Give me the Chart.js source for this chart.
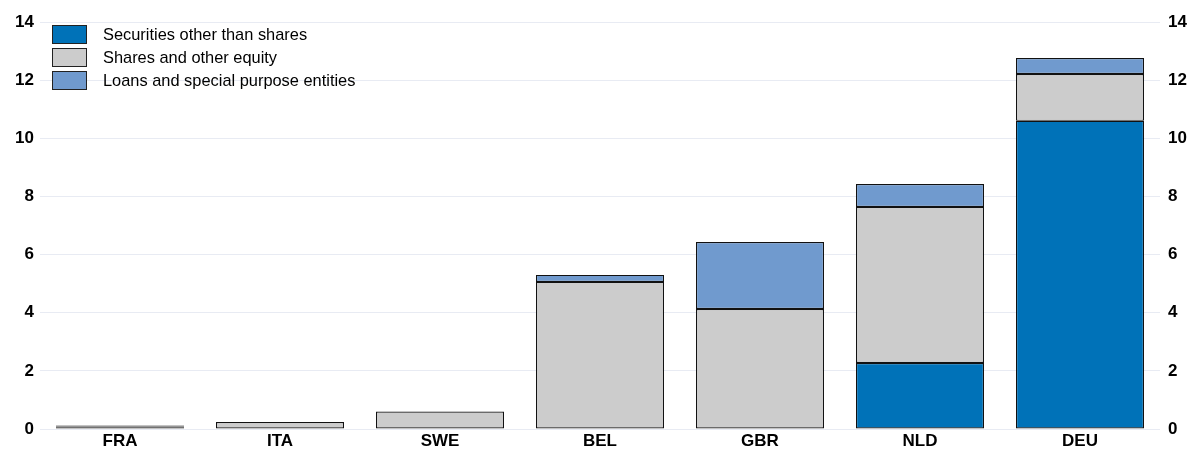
<!DOCTYPE html>
<html lang="en">
<head>
<meta charset="UTF-8">
<script src="https://cdn.jsdelivr.net/npm/chart.js@4.4.0/dist/chart.umd.min.js"></script>
<style>
    body { margin: 0; background: #fff; font-family: "Liberation Sans", Arial, sans-serif; }
    .wrap { position: relative; width: 1197px; height: 450px; }
    .legend { position: absolute; left: 52px; top: 23px; font-size: 16.4px; color: #000; }
    .legend div { height: 23px; display: flex; align-items: center; }
    .legend span.box { display: inline-block; width: 33px; height: 17px; border: 1px solid #222; margin-right: 16px; }
</style>
</head>
<body>
<div class="wrap">
    <canvas id="chart" width="1197" height="450"></canvas>
    <div class="legend" id="legend"></div>
</div>
<script>
    // data
    var countries = ['FRA', 'ITA', 'SWE', 'BEL', 'GBR', 'NLD', 'DEU'];
    var securities = [0.04, 0, 0, 0, 0, 2.27, 10.6];
    var shares = [0.05, 0.24, 0.6, 5.06, 4.13, 5.37, 1.61];
    var loans = [0.03, 0, 0, 0.24, 2.3, 0.79, 0.55];
    var seriesNames = ['Securities other than shares', 'Shares and other equity', 'Loans and special purpose entities'];
    var colors = ['#0072b8', '#cccccc', '#709ace'];

    // legend
    var leg = document.getElementById('legend');
    seriesNames.forEach(function (n, i) {
        leg.innerHTML += '<div><span class="box" style="background:' + colors[i] + '"></span>' + n + '</div>';
    });

    var tickFont = { family: '"Liberation Sans", Arial, sans-serif', size: 17, weight: 'bold' };

    new Chart(document.getElementById('chart'), {
        type: 'bar',
        data: {
            labels: countries,
            datasets: [securities, shares, loans].map(function (d, i) {
                return {
                    label: seriesNames[i],
                    data: d,
                    backgroundColor: colors[i],
                    borderColor: '#111',
                    borderWidth: 1.2,
                    borderSkipped: false,
                    barPercentage: 0.8,
                    categoryPercentage: 1
                };
            })
        },
        options: {
            responsive: false,
            animation: false,
            layout: { padding: { top: 22, left: 0, right: 0, bottom: 0 } },
            plugins: { legend: { display: false }, tooltip: { enabled: false } },
            scales: {
                x: {
                    stacked: true,
                    grid: { display: false },
                    border: { display: false },
                    ticks: { color: '#000', font: tickFont, padding: -6 },
                    afterFit: function (a) { a.height = 21; }
                },
                y: {
                    stacked: true,
                    min: 0, max: 14,
                    ticks: { stepSize: 2, color: '#000', font: tickFont, padding: 6 },
                    grid: { color: '#e8ebf3', drawTicks: false },
                    border: { display: false },
                    afterFit: function (a) { a.width = 40; }
                },
                y2: {
                    position: 'right',
                    min: 0, max: 14,
                    ticks: { stepSize: 2, color: '#000', font: tickFont, padding: 8 },
                    grid: { display: false, drawTicks: false },
                    border: { display: false },
                    afterFit: function (a) { a.width = 37; }
                }
            }
        }
    });
</script>
</body>
</html>
